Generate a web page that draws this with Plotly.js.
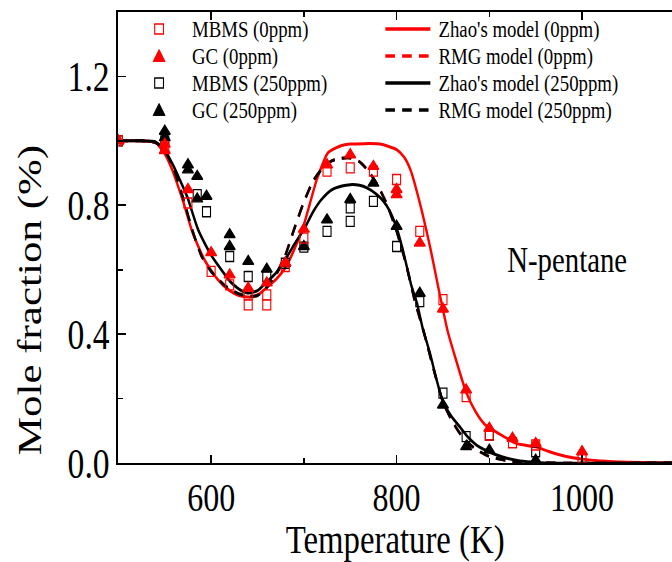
<!DOCTYPE html>
<html>
<head>
<meta charset="utf-8">
<script src="https://cdn.plot.ly/plotly-3.0.1.min.js"></script>
<style>
html,body{margin:0;padding:0;background:#fff;overflow:hidden;}
#wrap{width:672px;height:562px;overflow:hidden;position:relative;}
#chart{width:840px;height:562px;transform:scaleX(0.8);transform-origin:0 0;position:absolute;left:0;top:0;}
</style>
</head>
<body>
<div id="wrap"><div id="chart"></div></div>
<script>
// ---- Experimental data ----
const mbms0_T = [500, 550, 575, 600, 620, 640, 640, 660, 660, 680, 700, 725, 750, 775, 800, 825, 850, 875, 900, 925, 950, 1000];
const mbms0_X = [1.0, 0.98, 0.807, 0.595, 0.553, 0.522, 0.491, 0.522, 0.491, 0.61, 0.698, 0.906, 0.916, 0.906, 0.88, 0.719, 0.507, 0.206, 0.087, 0.063, 0.056, 0.015];

const gc0_T = [500, 550, 550, 575, 600, 620, 640, 660, 680, 700, 725, 750, 775, 800, 800, 825, 850, 875, 900, 925, 950, 1000];
const gc0_X = [1.0, 0.99, 0.97, 0.849, 0.653, 0.584, 0.543, 0.559, 0.621, 0.726, 0.926, 0.957, 0.921, 0.849, 0.833, 0.683, 0.478, 0.227, 0.108, 0.077, 0.061, 0.035];

const mbms250_T = [500, 550, 585, 595, 620, 640, 660, 680, 700, 725, 750, 750, 775, 800, 825, 850, 875, 900, 950];
const mbms250_X = [1.0, 1.0, 0.833, 0.78, 0.641, 0.579, 0.579, 0.62, 0.67, 0.719, 0.792, 0.75, 0.812, 0.672, 0.501, 0.217, 0.082, 0.087, 0.035];

const gc250_T = [500, 550, 550, 575, 575, 585, 585, 595, 620, 620, 640, 660, 680, 700, 725, 750, 775, 800, 825, 850, 875, 900, 950];
const gc250_X = [1.0, 1.03, 1.01, 0.926, 0.91, 0.89, 0.82, 0.828, 0.709, 0.672, 0.626, 0.602, 0.62, 0.672, 0.755, 0.818, 0.869, 0.735, 0.527, 0.18, 0.051, 0.04, 0.009];

// ---- Model curves ----
const zhao0_T = [500, 525, 540, 550, 558, 570, 580, 593, 607, 620, 630, 643, 652, 660, 670, 680, 690, 700, 714, 726, 740, 750, 782, 800, 808, 815, 825, 836, 847, 855, 862, 875, 885, 895, 911, 930, 950, 965, 983, 1000, 1020, 1050, 1100];
const zhao0_X = [1.0, 1.0, 0.995, 0.96, 0.91, 0.81, 0.715, 0.63, 0.57, 0.535, 0.52, 0.515, 0.525, 0.545, 0.57, 0.606, 0.665, 0.74, 0.88, 0.963, 0.985, 0.99, 0.99, 0.973, 0.95, 0.91, 0.808, 0.672, 0.517, 0.41, 0.34, 0.22, 0.16, 0.12, 0.09, 0.06, 0.05, 0.035, 0.02, 0.012, 0.006, 0.002, 0.0];

const rmg0_T = [500, 525, 540, 550, 560, 570, 580, 590, 600, 615, 630, 640, 650, 660, 670, 680, 690, 700, 710, 720, 730, 740, 750, 760, 770, 780, 790, 800, 810, 820, 830, 840, 850, 860, 870, 880, 890, 900, 920, 940, 1100];
const rmg0_X = [1.0, 1.0, 0.995, 0.97, 0.91, 0.82, 0.72, 0.64, 0.595, 0.55, 0.525, 0.518, 0.52, 0.545, 0.585, 0.645, 0.73, 0.81, 0.875, 0.915, 0.938, 0.946, 0.947, 0.935, 0.905, 0.86, 0.8, 0.72, 0.62, 0.5, 0.4, 0.29, 0.19, 0.13, 0.085, 0.055, 0.035, 0.02, 0.007, 0.001, 0.0];

const zhao250_T = [500, 525, 540, 550, 558, 574, 586, 600, 615, 620, 630, 640, 650, 659, 670, 680, 690, 701, 710, 719, 730, 741, 750, 760, 768, 778, 786, 793, 800, 806, 811, 816, 822, 828, 836, 843, 850, 859, 868, 877, 886, 897, 908, 920, 930, 945, 960, 1100];
const zhao250_X = [1.0, 1.0, 0.997, 0.97, 0.93, 0.828, 0.724, 0.645, 0.584, 0.565, 0.54, 0.528, 0.535, 0.559, 0.59, 0.631, 0.68, 0.73, 0.78, 0.818, 0.848, 0.86, 0.864, 0.862, 0.854, 0.835, 0.812, 0.78, 0.73, 0.67, 0.61, 0.55, 0.496, 0.42, 0.341, 0.26, 0.19, 0.145, 0.113, 0.08, 0.056, 0.038, 0.025, 0.014, 0.008, 0.003, 0.0, 0.0];

const rmg250_T = [500, 525, 540, 550, 560, 570, 580, 590, 600, 615, 630, 640, 650, 660, 670, 680, 690, 700, 710, 720, 730, 740, 750, 760, 770, 780, 790, 800, 810, 820, 830, 840, 850, 860, 870, 880, 890, 900, 920, 940, 1100];
const rmg250_X = [1.0, 1.0, 0.995, 0.97, 0.91, 0.82, 0.72, 0.64, 0.595, 0.55, 0.525, 0.518, 0.52, 0.545, 0.585, 0.645, 0.73, 0.81, 0.875, 0.915, 0.938, 0.946, 0.947, 0.935, 0.905, 0.86, 0.8, 0.72, 0.62, 0.5, 0.4, 0.29, 0.19, 0.13, 0.085, 0.055, 0.035, 0.02, 0.007, 0.001, 0.0];

const xTicks = [600, 800, 1000];
const yTicks = [0.0, 0.4, 0.8, 1.2];
const yTickText = ['0.0', '0.4', '0.8', '1.2'];

const markerNames = ['MBMS (0ppm)', 'GC (0ppm)', 'MBMS (250ppm)', 'GC (250ppm)'];
const lineNames = ["Zhao's model (0ppm)", 'RMG model (0ppm)', "Zhao's model (250ppm)", 'RMG model (250ppm)'];

const RED = '#ff0000', BLK = '#000000';
const FONT = 'Liberation Serif, Times New Roman, serif';
const DASH = '12px,9px';

function line(T, X, name, color, dash) {
  return {x: T, y: X, name: name, type: 'scatter', mode: 'lines', showlegend: false,
          line: {color: color, width: 3, dash: dash, shape: 'spline', smoothing: 0.6}};
}
function pts(T, X, name, color, sym, size) {
  return {x: T, y: X, name: name, type: 'scatter', mode: 'markers', showlegend: false,
          marker: {symbol: sym, size: size, color: color, line: {color: color, width: 1.4}}};
}

const traces = [
  line(rmg0_T, rmg0_X, lineNames[1], RED, DASH),
  line(zhao0_T, zhao0_X, lineNames[0], RED, 'solid'),
  line(zhao250_T, zhao250_X, lineNames[2], BLK, 'solid'),
  line(rmg250_T, rmg250_X, lineNames[3], BLK, DASH),
  pts(mbms250_T, mbms250_X, markerNames[2], BLK, 'square-open', 10),
  pts(gc250_T, gc250_X, markerNames[3], BLK, 'triangle-up', 12),
  pts(mbms0_T, mbms0_X, markerNames[0], RED, 'square-open', 10),
  pts(gc0_T, gc0_X, markerNames[1], RED, 'triangle-up', 12)
];

// Plot area: top 12 px, bottom 463 px of the 562 px canvas
const H = 562, MT = 12, MB = H - 463;
const pyFrac = (yPix) => (463 - yPix) / 451;

// ---- Legend (two columns, drawn as annotations + shapes in paper coords) ----
const rowY = [29, 56, 83, 110].map(pyFrac);
const markerColors = [RED, RED, BLK, BLK];
const markerKinds = ['square', 'triangle', 'square', 'triangle'];
const lineColors = [RED, RED, BLK, BLK];
const lineDashes = ['solid', DASH, 'solid', DASH];
const legMarkX = 0.0735, legTextX1 = 0.1295, legLine0 = 0.4822, legLine1 = 0.5635, legTextX2 = 0.5756;
const LEGFONT = 23.5;

const shapes = [];
const annotations = [];
for (let i = 0; i < 4; i++) {
  if (markerKinds[i] === 'square') {
    shapes.push({type: 'rect', xref: 'paper', yref: 'paper', xsizemode: 'pixel', ysizemode: 'pixel',
      xanchor: legMarkX, yanchor: rowY[i], x0: -5.5, x1: 5.5, y0: -5, y1: 5,
      line: {color: markerColors[i], width: 1.4}, fillcolor: 'rgba(0,0,0,0)'});
  } else {
    shapes.push({type: 'path', xref: 'paper', yref: 'paper', xsizemode: 'pixel', ysizemode: 'pixel',
      xanchor: legMarkX, yanchor: rowY[i], path: 'M -7.5 -5.5 L 7.5 -5.5 L 0 6.5 Z',
      line: {color: markerColors[i], width: 1}, fillcolor: markerColors[i]});
  }
  annotations.push({text: markerNames[i], xref: 'paper', yref: 'paper', x: legTextX1, y: rowY[i],
    xanchor: 'left', yanchor: 'middle', showarrow: false, font: {family: FONT, size: LEGFONT, color: '#000'}});
  shapes.push({type: 'line', xref: 'paper', yref: 'paper', x0: legLine0, x1: legLine1, y0: rowY[i], y1: rowY[i],
    line: {color: lineColors[i], width: 3.5, dash: lineDashes[i]}});
  annotations.push({text: lineNames[i], xref: 'paper', yref: 'paper', x: legTextX2, y: rowY[i],
    xanchor: 'left', yanchor: 'middle', showarrow: false, font: {family: FONT, size: LEGFONT, color: '#000'}});
}
annotations.push({text: 'N-pentane', xref: 'paper', yref: 'paper', x: 0.699, y: pyFrac(260),
  xanchor: 'left', yanchor: 'middle', showarrow: false, font: {family: FONT, size: 36, color: '#000'}});
// y-axis title (placed as a rotated annotation to match the reference's vertical position)
annotations.push({text: 'Mole fraction (%)', xref: 'paper', yref: 'paper', x: -0.16, y: pyFrac(300),
  xanchor: 'center', yanchor: 'middle', textangle: -90, showarrow: false,
  font: {family: FONT, size: 43, color: '#000'}});

const layout = {
  width: 840, height: H,
  margin: {l: 148, r: 0, t: MT, b: MB},
  paper_bgcolor: '#fff', plot_bgcolor: '#fff',
  showlegend: false,
  font: {family: FONT, color: '#000'},
  xaxis: {
    range: [500, 1097], tickvals: xTicks, ticktext: xTicks.map(String),
    ticks: 'inside', ticklen: 8, tickwidth: 1.8, tickcolor: '#000', ticklabelstandoff: -2,
    minor: {tickvals: [700, 900], ticks: 'inside', ticklen: 5, tickwidth: 1.8, tickcolor: '#000'},
    showline: true, linecolor: '#000', linewidth: 2.2, mirror: 'ticks',
    showgrid: false, zeroline: false,
    tickfont: {family: FONT, size: 40, color: '#000'},
    title: {text: 'Temperature (K)', font: {family: FONT, size: 41, color: '#000'}, standoff: 30}
  },
  yaxis: {
    range: [0, 1.4], tickvals: yTicks, ticktext: yTickText,
    ticks: 'inside', ticklen: 9, tickwidth: 1.8, tickcolor: '#000',
    minor: {tickvals: [0.2, 0.6, 1.0], ticks: 'inside', ticklen: 6, tickwidth: 1.8, tickcolor: '#000'},
    showline: true, linecolor: '#000', linewidth: 2.6, mirror: false,
    showgrid: false, zeroline: false,
    tickfont: {family: FONT, size: 42, color: '#000'}
  },
  shapes: shapes,
  annotations: annotations
};

Plotly.newPlot('chart', traces, layout, {displayModeBar: false, staticPlot: true});
</script>
</body>
</html>
